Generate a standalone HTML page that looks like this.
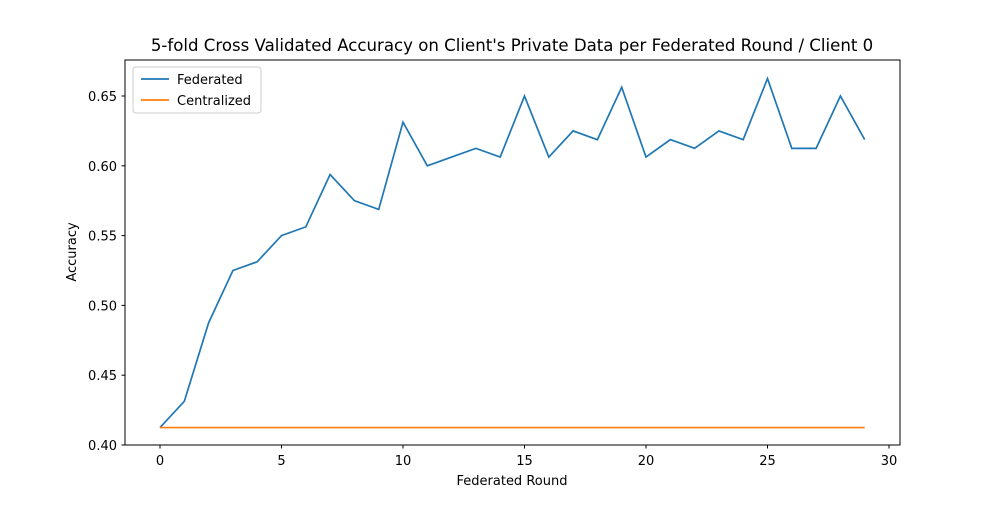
<!DOCTYPE html>
<html><head><meta charset="utf-8"><style>
body{margin:0;background:#fff;font-family:"Liberation Sans","DejaVu Sans",sans-serif}
svg text{font-family:"DejaVu Sans","Liberation Sans",sans-serif}
</style></head><body>
<svg id="chart" width="1000" height="500" xmlns="http://www.w3.org/2000/svg">
<rect width="1000" height="500" fill="#fff"/>
<text x="512" y="51" font-size="16.6" text-anchor="middle">5-fold Cross Validated Accuracy on Client's Private Data per Federated Round / Client 0</text>
<g id="plot"></g>
<rect x="125" y="60" width="775" height="385" fill="none" stroke="#000" stroke-width="1"/>
<text x="512" y="485" font-size="13" text-anchor="middle">Federated Round</text>
<text x="0" y="0" font-size="13" text-anchor="middle" transform="translate(76,252) rotate(-90)">Accuracy</text>
<g>
<rect x="133" y="67" width="128" height="46" rx="3" fill="#fff" stroke="#ccc"/>
<line x1="141" y1="79" x2="169" y2="79" stroke="#1f77b4" stroke-width="1.7"/>
<text x="177" y="84" font-size="13">Federated</text>
<line x1="141" y1="100" x2="169" y2="100" stroke="#ff7f0e" stroke-width="1.7"/>
<text x="177" y="105" font-size="13">Centralized</text>
</g>
</svg>
<script>
const rounds=[0,1,2,3,4,5,6,7,8,9,10,11,12,13,14,15,16,17,18,19,20,21,22,23,24,25,26,27,28,29];
const federated=[0.4125,0.43125,0.4875,0.525,0.53125,0.55,0.55625,0.59375,0.575,0.56875,0.63125,0.6,0.60625,0.6125,0.60625,0.65,0.60625,0.625,0.61875,0.65625,0.60625,0.61875,0.6125,0.625,0.61875,0.6625,0.6125,0.6125,0.65,0.61875];
const centralized=[0.4125,0.4125,0.4125,0.4125,0.4125,0.4125,0.4125,0.4125,0.4125,0.4125,0.4125,0.4125,0.4125,0.4125,0.4125,0.4125,0.4125,0.4125,0.4125,0.4125,0.4125,0.4125,0.4125,0.4125,0.4125,0.4125,0.4125,0.4125,0.4125,0.4125];
const xTicks=[0,5,10,15,20,25,30];
const yTicks=[0.40,0.45,0.50,0.55,0.60,0.65];
const NS="http://www.w3.org/2000/svg";
const xs=v=>160+(v-0)*(889-160)/30;
const ys=v=>445-(v-0.40)*(349/0.25);
const g=document.getElementById('plot');
function mk(t,a){const e=document.createElementNS(NS,t);for(const k in a)e.setAttribute(k,a[k]);g.appendChild(e);return e;}
xTicks.forEach(t=>{
 const l=mk('line',{x1:xs(t),x2:xs(t),y1:445,y2:448.5,stroke:'#000'});
 
 
 const tx=mk('text',{x:xs(t),y:465,'font-size':13,'text-anchor':'middle'});tx.textContent=t;
 
 
});
yTicks.forEach(t=>{
 const l=mk('line',{x1:121.5,x2:125,y1:ys(t),y2:ys(t),stroke:'#000'});
 
 
 const tx=mk('text',{x:117,y:ys(t)+5,'font-size':13,'text-anchor':'end'});tx.textContent=t.toFixed(2);
 
 
});
function line(vals,color,name){
 const p=mk('polyline',{points:vals.map((v,i)=>xs(rounds[i])+','+ys(v)).join(' '),fill:'none',stroke:color,'stroke-width':1.7});
 
 
}
line(federated,'#1f77b4','federated-line');
line(centralized,'#ff7f0e','centralized-line');
</script>
</body></html>
